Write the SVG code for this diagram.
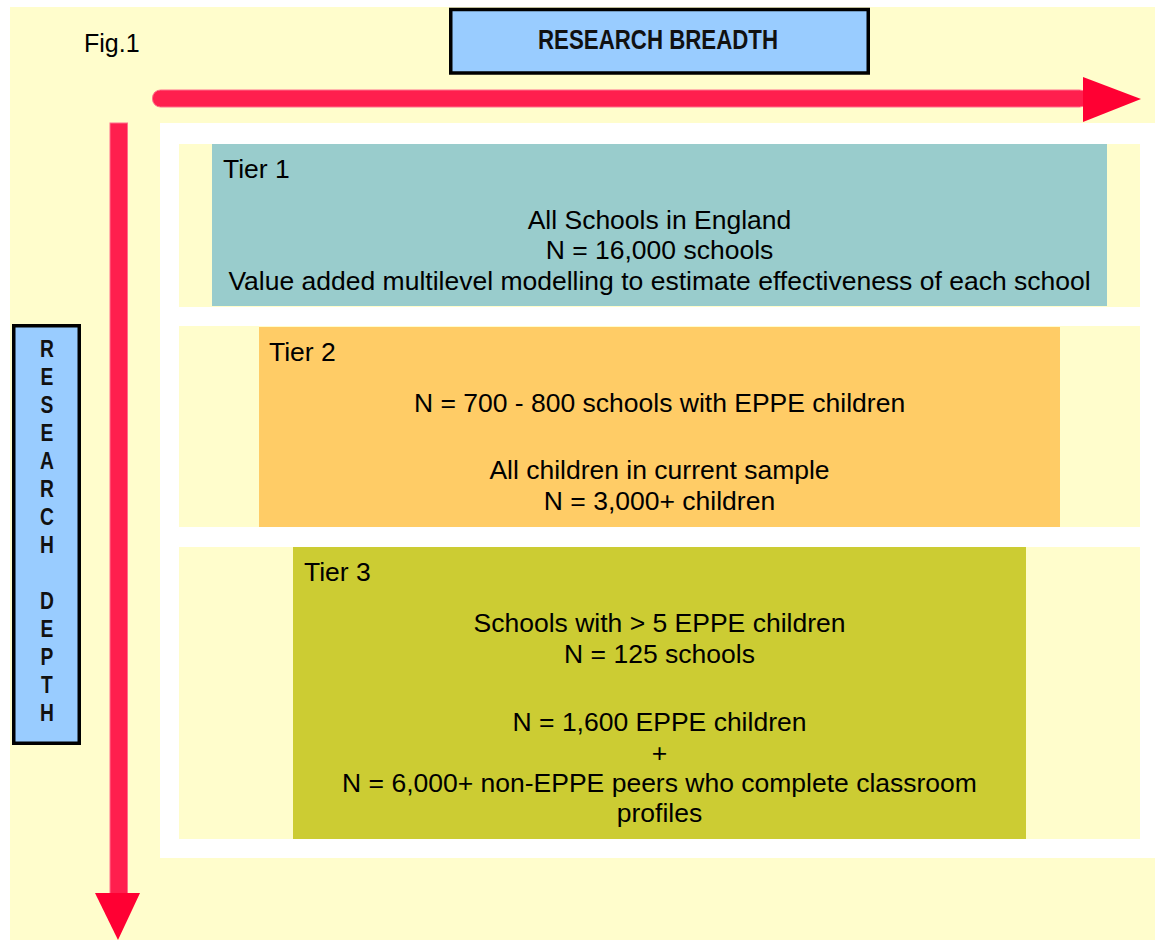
<svg xmlns="http://www.w3.org/2000/svg" width="1155" height="940" viewBox="0 0 1155 940">
<style>
.t{font-family:"Liberation Sans",Arial,sans-serif;font-size:26.5px;fill:#000}
.c{text-anchor:middle}
.b{font-family:"Liberation Sans",Arial,sans-serif;font-weight:bold;fill:#111}
.band{fill:#FFFDCC}
.lbl{fill:#99CCFF;stroke:#000;stroke-width:3.5}
.shaft{fill:#FF1F4E;stroke:#FF6F8C;stroke-width:1}
.head{fill:#FF0033}
</style>
<rect x="0" y="0" width="1155" height="940" fill="#FFFFFF"/>
<rect x="10" y="7" width="1145" height="933" fill="#FFFDCC"/>
<rect x="160" y="123" width="995" height="735" fill="#FFFFFF"/>

<g id="connectors">
  <rect class="shaft" x="152.5" y="90" width="935" height="17" rx="8"/>
  <polygon class="head" points="1083,77 1141,99 1083,122"/>
  <rect class="shaft" x="110" y="123" width="17.5" height="775"/>
  <polygon class="head" points="95,893 140,893 118,940"/>
</g>

<g id="fig-label">
  <text class="t" x="84" y="52" style="font-size:25px">Fig.1</text>
</g>

<g id="research-breadth">
  <rect class="lbl" x="450.75" y="9.5" width="417.5" height="63.5"/>
  <text class="b c" x="658" y="49" font-size="27" textLength="240" lengthAdjust="spacingAndGlyphs">RESEARCH BREADTH</text>
</g>

<g id="research-depth">
  <rect class="lbl" x="13.75" y="325.75" width="65.5" height="417.5"/>
  <g transform="translate(47,0) scale(0.82,1)" class="b" font-size="23.5" text-anchor="middle">
    <text x="0" y="357">R</text>
    <text x="0" y="385">E</text>
    <text x="0" y="413">S</text>
    <text x="0" y="441">E</text>
    <text x="0" y="469">A</text>
    <text x="0" y="497">R</text>
    <text x="0" y="525">C</text>
    <text x="0" y="553">H</text>
    <text x="0" y="609">D</text>
    <text x="0" y="637">E</text>
    <text x="0" y="665">P</text>
    <text x="0" y="693">T</text>
    <text x="0" y="721">H</text>
  </g>
</g>

<g id="tier1">
  <rect class="band" x="179" y="144" width="961" height="163"/>
  <rect x="212" y="144" width="895" height="162" fill="#99CCCC"/>
  <text class="t" x="223" y="178">Tier 1</text>
  <text class="t c" x="659.5" y="228.5">All Schools in England</text>
  <text class="t c" x="659.5" y="259">N = 16,000 schools</text>
  <text class="t c" x="659.5" y="289.5">Value added multilevel modelling to estimate effectiveness of each school</text>
</g>

<g id="tier2">
  <rect class="band" x="179" y="326" width="961" height="201"/>
  <rect x="259" y="327" width="801" height="200" fill="#FFCC66"/>
  <text class="t" x="269" y="361">Tier 2</text>
  <text class="t c" x="659.5" y="411.5">N = 700 - 800 schools with EPPE children</text>
  <text class="t c" x="659.5" y="479">All children in current sample</text>
  <text class="t c" x="659.5" y="510">N = 3,000+ children</text>
</g>

<g id="tier3">
  <rect class="band" x="179" y="547" width="961" height="292"/>
  <rect x="293" y="547" width="733" height="292" fill="#CCCC33"/>
  <text class="t" x="304" y="581">Tier 3</text>
  <text class="t c" x="659.5" y="631.5">Schools with &gt; 5 EPPE children</text>
  <text class="t c" x="659.5" y="662.5">N = 125 schools</text>
  <text class="t c" x="659.5" y="731">N = 1,600 EPPE children</text>
  <text class="t c" x="659.5" y="761.5">+</text>
  <text class="t c" x="659.5" y="792">N = 6,000+ non-EPPE peers who complete classroom</text>
  <text class="t c" x="659.5" y="822">profiles</text>
</g>
</svg>
